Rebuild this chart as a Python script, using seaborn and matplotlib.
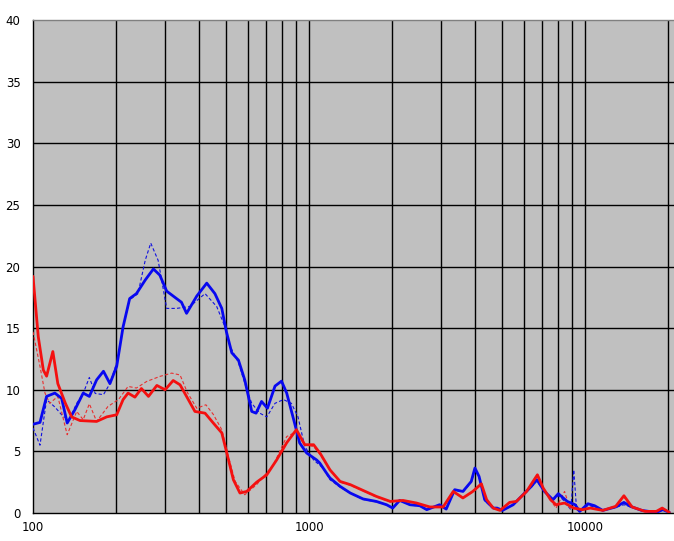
import matplotlib
matplotlib.use("Agg")
import matplotlib.pyplot as plt
import matplotlib.ticker as mticker
import seaborn as sns
import pandas as pd

# blue solid
blue_freq = [100, 106, 112, 120, 127, 133, 142, 152, 160, 170, 180, 190, 201, 212, 224,
             237, 255, 273, 288, 305, 331, 345, 360, 392, 426, 456, 483, 502, 525, 555,
             585, 620, 643, 673, 707, 753, 795, 830, 880, 925, 980, 1066, 1094, 1157,
             1191, 1296, 1411, 1570, 1752, 1910, 2010, 2130, 2320, 2520, 2670, 2970,
             3140, 3370, 3610, 3870, 3990, 4130, 4330, 4650, 4800, 5020, 5490, 5960,
             6390, 6690, 7130, 7650, 8000, 8620, 9210, 9560, 10240, 10830, 11590,
             12910, 13830, 14600, 16040, 18120, 19130, 20200]
blue_vals = [7.2, 7.35, 9.46, 9.73, 9.3, 7.3, 8.4, 9.73, 9.46, 10.8, 11.5, 10.5, 11.9,
             15.1, 17.4, 17.8, 18.9, 19.8, 19.3, 18.0, 17.4, 17.1, 16.2, 17.6, 18.65,
             17.8, 16.6, 14.7, 13.0, 12.4, 10.8, 8.24, 8.1, 9.05, 8.5, 10.3, 10.7, 9.73,
             7.57, 5.68, 4.87, 4.3, 4.05, 3.24, 2.84, 2.16, 1.62, 1.14, 0.94, 0.67, 0.4,
             1.02, 0.67, 0.59, 0.27, 0.67, 0.32, 1.89, 1.75, 2.56, 3.65, 2.97, 1.08, 0.4,
             0.4, 0.21, 0.67, 1.48, 2.16, 2.7, 1.75, 1.08, 1.57, 0.94, 0.67, 0.13, 0.75,
             0.59, 0.21, 0.49, 0.86, 0.54, 0.21, 0.05, 0.27, 0.05]

# blue dashed
blue2_freq = [100, 106, 112, 120, 129, 136, 144, 152, 160, 168, 180, 190, 201, 212, 224,
              240, 255, 267, 284, 305, 331, 370, 420, 463, 496, 518, 555, 595, 620, 663,
              703, 753, 808, 863, 912, 965, 1039, 1124, 1191, 1296, 1411, 1570, 1752,
              1910, 2010, 2130, 2320, 2520, 2670, 2970, 3140, 3370, 3610, 3870, 3990,
              4130, 4330, 4650, 5020, 5490, 5960, 6390, 6690, 7130, 7650, 8000, 8300,
              8880, 9100, 9320, 9560, 10240, 10830, 11590, 12910, 13830, 14600, 16040,
              18120, 19130, 20200]
blue2_vals = [6.9, 5.5, 9.2, 8.6, 7.8, 7.7, 8.9, 9.7, 11.0, 9.7, 9.6, 10.5, 12.2, 15.1,
              17.3, 17.8, 20.5, 21.9, 20.5, 16.6, 16.6, 16.75, 17.8, 16.75, 15.1, 13.5,
              12.2, 10.0, 8.9, 8.1, 7.8, 8.9, 9.2, 8.9, 7.8, 5.4, 4.3, 3.65, 2.7, 2.1,
              1.6, 1.1, 0.9, 0.65, 0.4, 1.0, 0.65, 0.55, 0.25, 0.65, 0.3, 1.85, 1.7, 2.5,
              3.5, 2.9, 1.0, 0.35, 0.2, 0.65, 1.45, 2.1, 2.6, 1.7, 1.05, 1.4, 1.1, 0.27,
              3.5, 0.27, 0.1, 0.6, 0.5, 0.2, 0.45, 0.67, 0.5, 0.2, 0.05, 0.25, 0.05]

# red solid
red_freq = [100, 104.5, 109, 112, 118, 123, 131, 138, 148, 170, 185, 201, 212, 221, 234,
            247, 262, 281, 301, 322, 341, 360, 386, 420, 450, 483, 502, 532, 562, 595,
            646, 703, 763, 830, 900, 965, 1039, 1100, 1191, 1296, 1411, 1570, 1752,
            1970, 2190, 2450, 2740, 3060, 3330, 3610, 3920, 4210, 4400, 4650, 4920,
            5330, 5640, 6140, 6480, 6720, 7050, 7500, 7850, 8430, 9100, 9770, 10450,
            11590, 12910, 13830, 14800, 16500, 18120, 19030, 20200]
red_vals = [19.2, 14.3, 11.6, 11.1, 13.1, 10.5, 8.9, 7.8, 7.5, 7.43, 7.8, 7.97, 9.2,
            9.73, 9.4, 10.1, 9.46, 10.35, 10.0, 10.75, 10.4, 9.46, 8.24, 8.1, 7.3, 6.5,
            5.0, 2.7, 1.62, 1.75, 2.5, 3.1, 4.3, 5.7, 6.76, 5.54, 5.54, 4.8, 3.5, 2.56,
            2.3, 1.83, 1.35, 0.94, 1.02, 0.81, 0.49, 0.49, 1.75, 1.22, 1.75, 2.37, 1.08,
            0.4, 0.21, 0.86, 0.94, 1.75, 2.56, 3.1, 2.03, 1.08, 0.67, 0.81, 0.4, 0.27,
            0.4, 0.21, 0.54, 1.4, 0.49, 0.13, 0.13, 0.4, 0.05]

# red dashed
red2_freq = [100, 106, 110.5, 115, 123, 133, 144, 152, 160, 170, 187, 204, 221, 237, 258,
             288, 318, 341, 362, 392, 423, 450, 483, 510, 540, 585, 646, 743, 830, 900,
             965, 1039, 1100, 1191, 1296, 1411, 1570, 1752, 1970, 2190, 2450, 2740,
             3060, 3330, 3610, 3920, 4210, 4400, 4650, 4920, 5330, 5640, 6140, 6480,
             6720, 7050, 7500, 7850, 8430, 8800, 9770, 10450, 11590, 12910, 13830,
             14800, 16500, 18120, 19030, 20200]
red2_vals = [14.7, 11.9, 9.73, 8.9, 9.46, 6.35, 8.24, 7.57, 8.86, 7.43, 8.65, 9.2, 10.27,
             10.14, 10.67, 11.08, 11.35, 11.2, 9.8, 8.5, 8.78, 8.0, 6.76, 4.6, 2.56, 1.48,
             2.3, 3.9, 6.2, 6.6, 5.5, 5.4, 4.7, 3.45, 2.5, 2.25, 1.8, 1.3, 0.9, 1.0, 0.8,
             0.45, 0.45, 1.7, 1.2, 1.7, 2.3, 1.05, 0.4, 0.2, 0.85, 0.9, 1.7, 2.5, 3.0,
             2.0, 1.05, 0.4, 1.75, 0.4, 0.25, 0.4, 0.2, 0.5, 1.3, 0.45, 0.13, 0.13, 0.4,
             0.05]

x_ticks = [100, 1000, 10000]
x_labels = ["100", "1000", "10000"]
y_ticks = [0, 5, 10, 15, 20, 25, 30, 35, 40]

sns.set_theme(style="white")
plt.rcParams["font.family"] = ["DejaVu Sans"]

fig = plt.figure(figsize=(6.74, 5.41), dpi=100)
ax = fig.add_axes([33 / 674, 28 / 541, 641 / 674, 493 / 541])
ax.set_facecolor("#C0C0C0")

ax.set_xscale("log")
ax.set_xlim(100, 21000)
ax.set_ylim(0, 40)

# grid lines, black
for dec in [100, 1000, 10000]:
    for m in range(1, 10):
        v = dec * m
        if 100 < v <= 20000:
            ax.axvline(v, color="black", lw=1.0, zorder=1)
for yv in y_ticks[1:-1]:
    ax.axhline(yv, color="black", lw=1.0, zorder=1)

series = [
    (blue2_freq, blue2_vals, "#1010E0", 0.8, (0, (3, 2))),
    (red2_freq, red2_vals, "#E83030", 0.8, (0, (3, 2))),
    (blue_freq, blue_vals, "#0808F0", 2.0, "-"),
    (red_freq, red_vals, "#F41010", 2.0, "-"),
]
for fx, fy, col, lw, ls in series:
    df = pd.DataFrame({"freq": fx, "val": fy})
    sns.lineplot(data=df, x="freq", y="val", ax=ax, color=col, lw=lw,
                 linestyle=ls, zorder=3, sort=False,
                 solid_joinstyle="round", solid_capstyle="round")

ax.set_xlabel("")
ax.set_ylabel("")
ax.xaxis.set_major_locator(mticker.FixedLocator(x_ticks))
ax.xaxis.set_minor_locator(mticker.NullLocator())
ax.set_xticklabels(x_labels)
ax.set_yticks(y_ticks)
ax.set_yticklabels([str(v) for v in y_ticks])
ax.tick_params(axis="both", length=0, labelsize=8.5, colors="black")
ax.tick_params(axis="y", pad=9)
ax.tick_params(axis="x", pad=6)

ax.spines["left"].set_color("black")
ax.spines["bottom"].set_color("black")
ax.spines["top"].set_color("#808080")
ax.spines["right"].set_visible(False)
for s in ax.spines.values():
    s.set_linewidth(1.0)

fig.savefig("out.png", dpi=100)
